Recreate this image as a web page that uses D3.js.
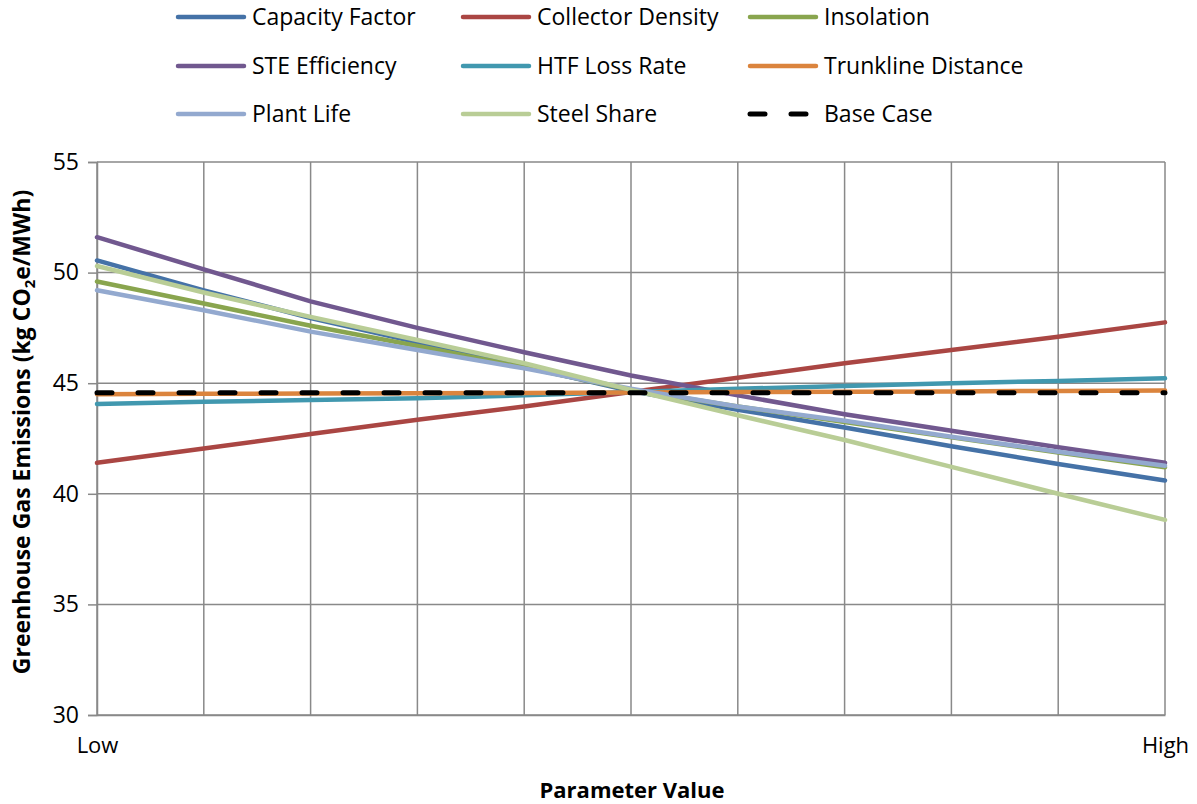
<!DOCTYPE html>
<html>
<head>
<meta charset="utf-8">
<script src="https://cdn.jsdelivr.net/npm/d3@7"></script>
<style>
  html, body { margin: 0; padding: 0; background: #fff; }
  svg { display: block; font-family: "Open Sans", Lato, sans-serif; }
</style>
</head>
<body>
<svg id="chart" width="1197" height="804"></svg>
<script>
// Sensitivity of greenhouse gas emissions to each parameter, Low -> High (11 steps)
const steps = d3.range(11);
const xTickLabels = { 0: "Low", 10: "High" };
const yTicks = [30, 35, 40, 45, 50, 55];

const seriesNames = ["Capacity Factor", "Collector Density", "Insolation", "STE Efficiency",
  "HTF Loss Rate", "Trunkline Distance", "Plant Life", "Steel Share", "Base Case"];
const seriesColors = ["#4572A7", "#AA4643", "#89A54E", "#71588F", "#4198AF", "#DB843D",
  "#93A9CF", "#B9CD96", "#000000"];

const capacityFactor    = [50.55, 49.2, 47.95, 46.85, 45.75, 44.65, 43.8, 43.0, 42.15, 41.35, 40.6];
const collectorDensity  = [41.4, 42.05, 42.7, 43.35, 43.95, 44.6, 45.25, 45.9, 46.5, 47.1, 47.75];
const insolation        = [49.6, 48.6, 47.6, 46.68, 45.72, 44.7, 43.95, 43.25, 42.55, 41.87, 41.2];
const steEfficiency     = [51.6, 50.15, 48.7, 47.5, 46.4, 45.35, 44.45, 43.6, 42.85, 42.1, 41.4];
const htfLossRate       = [44.06, 44.16, 44.24, 44.32, 44.45, 44.6, 44.75, 44.87, 45.0, 45.1, 45.22];
const trunklineDistance = [44.5, 44.52, 44.53, 44.55, 44.56, 44.58, 44.6, 44.61, 44.63, 44.65, 44.67];
const plantLife         = [49.2, 48.3, 47.33, 46.5, 45.67, 44.75, 43.95, 43.3, 42.58, 41.9, 41.27];
const steelShare        = [50.3, 49.1, 48.0, 46.95, 45.9, 44.7, 43.55, 42.43, 41.22, 40.0, 38.82];
const baseCase          = [44.57, 44.57, 44.57, 44.57, 44.57, 44.57, 44.57, 44.57, 44.57, 44.57, 44.57];

const seriesValues = [capacityFactor, collectorDensity, insolation, steEfficiency,
  htfLossRate, trunklineDistance, plantLife, steelShare, baseCase];

const svg = d3.select("#chart");
const plot = { left: 97, right: 1165, top: 162, bottom: 715 };
const gridColor = "#898989";
const font = "'Open Sans', sans-serif";

const x = d3.scaleLinear().domain([0, 10]).range([plot.left, plot.right]);
const y = d3.scaleLinear().domain([30, 55]).range([plot.bottom, plot.top]);

// Vertical gridlines at every step
svg.append("g")
  .selectAll("line").data(steps).join("line")
  .attr("x1", d => x(d)).attr("x2", d => x(d))
  .attr("y1", plot.top).attr("y2", plot.bottom)
  .attr("stroke", gridColor).attr("stroke-width", 1.5);

// Horizontal gridlines
svg.append("g")
  .selectAll("line").data(yTicks).join("line")
  .attr("x1", plot.left).attr("x2", plot.right)
  .attr("y1", d => y(d)).attr("y2", d => y(d))
  .attr("stroke", gridColor).attr("stroke-width", 1.5);

// Y axis
const yAxis = svg.append("g")
  .attr("transform", `translate(${plot.left},0)`)
  .call(d3.axisLeft(y).tickValues(yTicks).tickSize(9).tickPadding(9));
yAxis.select(".domain").attr("stroke", gridColor).attr("stroke-width", 1.5);
yAxis.selectAll(".tick line").attr("stroke", gridColor).attr("stroke-width", 1.5);
yAxis.selectAll(".tick text").attr("font-size", 23).attr("fill", "#000")
  .attr("font-family", font);

// X axis with Low / High labels only
const xAxis = svg.append("g")
  .attr("transform", `translate(0,${plot.bottom})`)
  .call(d3.axisBottom(x).tickValues([0, 10]).tickSize(0).tickPadding(22)
    .tickFormat(d => xTickLabels[d]));
xAxis.select(".domain").attr("stroke", gridColor).attr("stroke-width", 1.5);
xAxis.selectAll(".tick text").attr("font-size", 22).attr("fill", "#000")
  .attr("font-family", font);

// Series lines
const line = d3.line().x((d, i) => x(steps[i])).y(d => y(d));
seriesValues.forEach((vals, k) => {
  const isBase = seriesNames[k] === "Base Case";
  svg.append("path")
    .datum(vals)
    .attr("d", line)
    .attr("fill", "none")
    .attr("stroke", seriesColors[k])
    .attr("stroke-width", isBase ? 5 : 4.5)
    .attr("stroke-linecap", "round")
    .attr("stroke-dasharray", isBase ? "15,26" : null);
});

// Axis titles
svg.append("text")
  .attr("x", (plot.left + plot.right) / 2 + 1).attr("y", 798)
  .attr("text-anchor", "middle").attr("font-size", 22).attr("font-weight", "bold")
  .text("Parameter Value");

const yTitle = svg.append("text")
  .attr("transform", `translate(30,432) rotate(-90)`)
  .attr("text-anchor", "middle").attr("font-size", 23).attr("font-weight", "bold");
yTitle.append("tspan").text("Greenhouse Gas Emissions (kg CO");
yTitle.append("tspan").attr("font-size", 15).attr("dy", 5).text("2");
yTitle.append("tspan").attr("dy", -5).text("e/MWh)");

// Legend: 3 columns x 3 rows
const legendCols = [176, 461, 748];
const legendRows = [17, 66, 114];
const legend = svg.append("g");
seriesNames.forEach((name, k) => {
  const cx = legendCols[k % 3], cy = legendRows[Math.floor(k / 3)];
  const isBase = name === "Base Case";
  legend.append("line")
    .attr("x1", cx + 2).attr("x2", cx + 68)
    .attr("y1", cy).attr("y2", cy)
    .attr("stroke", seriesColors[k]).attr("stroke-width", isBase ? 5 : 4.5)
    .attr("stroke-linecap", "round")
    .attr("stroke-dasharray", isBase ? "15,26" : null);
  legend.append("text")
    .attr("x", cx + 76).attr("y", cy).attr("dy", "0.36em")
    .attr("font-size", 23).text(name);
});
</script>
</body>
</html>
